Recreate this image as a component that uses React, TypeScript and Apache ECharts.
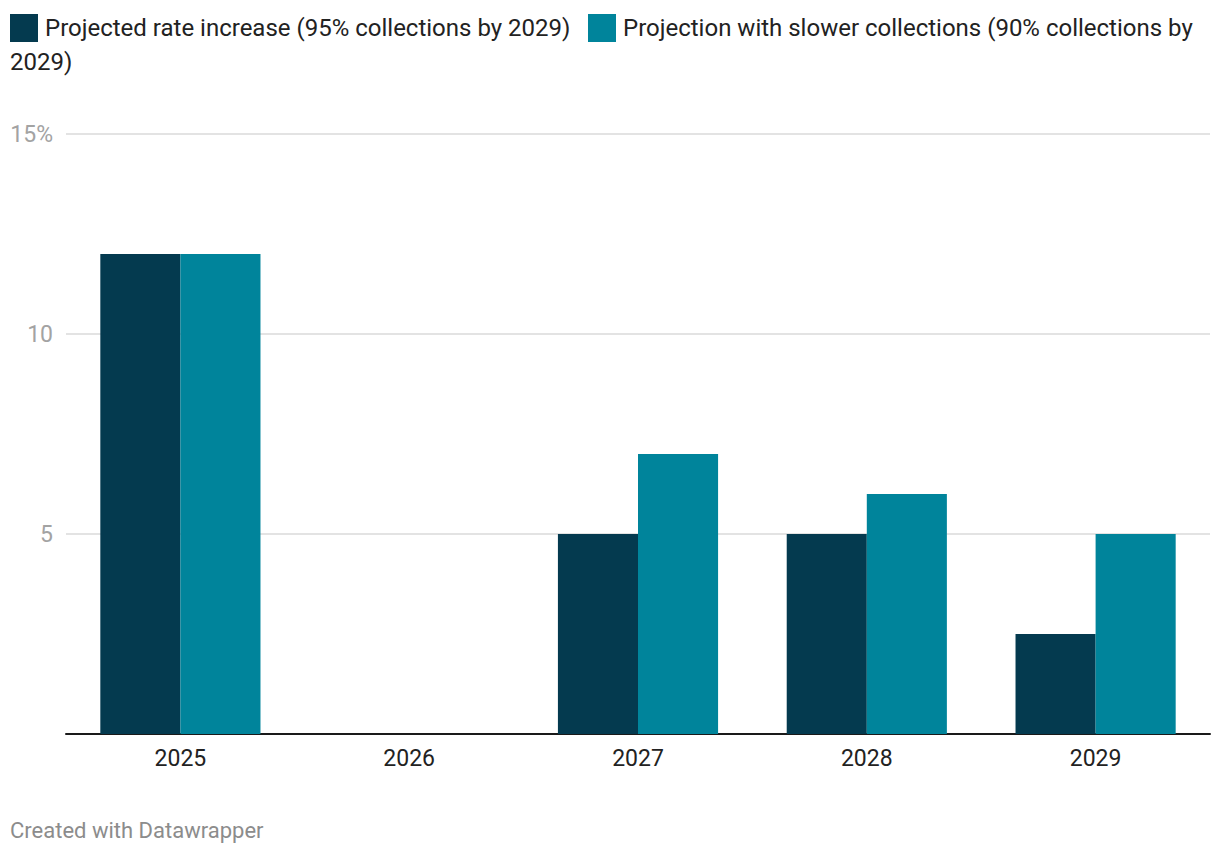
import React, { useEffect, useRef } from "react";
import * as echarts from "echarts";

const categories = ["2025", "2026", "2027", "2028", "2029"];
const seriesNames = [
  "Projected rate increase (95% collections by 2029)",
  "Projection with slower collections (90% collections by 2029)",
];
const projected = [12, 0, 5, 5, 2.5];
const slower = [12, 0, 7, 6, 5];
const yTicks = [0, 5, 10, 15];

const DARK = "#043a4f";
const TEAL = "#00849b";
const FONT = "Roboto";

export default function App() {
  const ref = useRef<HTMLDivElement>(null);
  useEffect(() => {
    if (!ref.current) return;
    const chart = echarts.init(ref.current, null, { renderer: "svg" });
    chart.setOption({
      animation: false,
      textStyle: { fontFamily: FONT },
      legend: { show: false },
      grid: { left: 66, right: 10, top: 134, bottom: 122, containLabel: false },
      xAxis: {
        type: "category",
        data: categories,
        axisLine: { show: true, lineStyle: { color: "#1a1a1a", width: 2 } },
        axisTick: { show: false },
        axisLabel: { fontSize: 23, color: "#222", margin: 13, fontFamily: FONT },
        splitLine: { show: false },
      },
      yAxis: {
        type: "value",
        min: yTicks[0],
        max: yTicks[yTicks.length - 1],
        interval: 5,
        axisLine: { show: false },
        axisTick: { show: false },
        axisLabel: {
          fontSize: 23,
          color: "#a3a3a3",
          margin: 13,
          fontFamily: FONT,
          formatter: (v: number) =>
            v === 0 ? "" : v === yTicks[yTicks.length - 1] ? v + "%" : String(v),
        },
        splitLine: {
          show: true,
          lineStyle: { color: "#e3e3e3", width: 2 },
          showMinLine: false,
        },
      },
      series: [
        {
          name: seriesNames[0],
          type: "bar",
          data: projected,
          itemStyle: { color: DARK },
          barGap: "0%",
          barCategoryGap: "30%",
        },
        {
          name: seriesNames[1],
          type: "bar",
          data: slower,
          itemStyle: { color: TEAL },
          barGap: "0%",
          barCategoryGap: "30%",
        },
      ],
      graphic: [
        { type: "rect", left: 10, top: 14, shape: { width: 28, height: 28 }, style: { fill: DARK } },
        {
          type: "text",
          left: 45,
          top: 14,
          style: { text: seriesNames[0], fontSize: 24, fill: "#222", fontFamily: FONT, lineHeight: 28 },
        },
        { type: "rect", left: 588, top: 14, shape: { width: 28, height: 28 }, style: { fill: TEAL } },
        {
          type: "text",
          left: 623,
          top: 14,
          style: {
            text: "Projection with slower collections (90% collections by",
            fontSize: 24,
            fill: "#222",
            fontFamily: FONT,
            lineHeight: 28,
          },
        },
        {
          type: "text",
          left: 10,
          top: 48,
          style: { text: "2029)", fontSize: 24, fill: "#222", fontFamily: FONT, lineHeight: 28 },
        },
        {
          type: "text",
          left: 10,
          top: 818,
          style: { text: "Created with Datawrapper", fontSize: 22, fill: "#8c8c8c", fontFamily: FONT, lineHeight: 24 },
        },
      ],
    });
    return () => chart.dispose();
  }, []);
  return (
    <div
      ref={ref}
      style={{ position: "fixed", left: 0, top: 0, width: 1220, height: 856, background: "#fff" }}
    />
  );
}
